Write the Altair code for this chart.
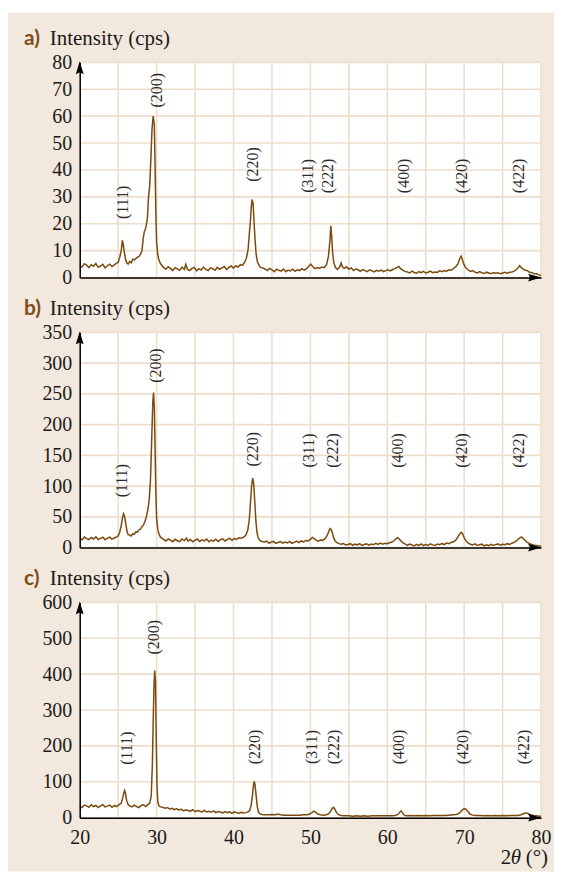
import altair as alt
import pandas as pd

# ---------------------------------------------------------------------------
# XRD patterns: 2θ (degrees) and intensity (cps) for samples a), b), c)
# ---------------------------------------------------------------------------
two_theta_a = [
    20.0, 20.3, 20.6, 20.9, 21.2, 21.5, 21.8, 22.1, 22.4, 22.7, 23.0, 23.3, 23.6, 23.9, 24.2, 24.5,
    24.8, 25.0, 25.2, 25.4, 25.55, 25.65, 25.8, 25.95, 26.1, 26.3, 26.5, 26.7, 26.9, 27.1, 27.3, 27.5,
    27.7, 27.9, 28.1, 28.25, 28.4, 28.6, 28.8, 28.95, 29.1, 29.25, 29.4, 29.55, 29.7, 29.8, 29.9, 30.0,
    30.15, 30.3, 30.5, 30.7, 30.9, 31.2, 31.5, 31.8, 32.1, 32.4, 32.7, 33.0, 33.3, 33.6, 33.8, 34.0,
    34.3, 34.6, 34.9, 35.2, 35.5, 35.8, 36.1, 36.4, 36.7, 37.0, 37.3, 37.6, 37.9, 38.2, 38.5, 38.8,
    39.1, 39.4, 39.7, 40.0, 40.3, 40.6, 40.9, 41.2, 41.5, 41.7, 41.9, 42.05, 42.2, 42.3, 42.42, 42.55,
    42.65, 42.8, 42.95, 43.1, 43.3, 43.5, 43.8, 44.1, 44.4, 44.7, 45.0, 45.3, 45.6, 45.9, 46.2, 46.5,
    46.8, 47.1, 47.4, 47.7, 48.0, 48.3, 48.6, 48.9, 49.2, 49.5, 49.8, 50.05, 50.3, 50.6, 50.9, 51.2,
    51.5, 51.8, 52.1, 52.35, 52.55, 52.65, 52.75, 52.9, 53.05, 53.25, 53.5, 53.8, 54.0, 54.15, 54.4, 54.7,
    55.0, 55.3, 55.6, 55.9, 56.2, 56.5, 56.8, 57.1, 57.4, 57.7, 58.0, 58.3, 58.6, 58.9, 59.2, 59.5,
    59.8, 60.1, 60.4, 60.7, 61.0, 61.3, 61.5, 61.7, 62.0, 62.3, 62.6, 62.9, 63.2, 63.5, 63.8, 64.1,
    64.4, 64.7, 65.0, 65.3, 65.6, 65.9, 66.2, 66.5, 66.8, 67.1, 67.4, 67.7, 68.0, 68.3, 68.6, 68.9,
    69.2, 69.45, 69.6, 69.75, 69.95, 70.2, 70.5, 70.8, 71.1, 71.4, 71.7, 72.0, 72.3, 72.6, 72.9, 73.2,
    73.5, 73.8, 74.1, 74.4, 74.7, 75.0, 75.3, 75.6, 75.9, 76.2, 76.5, 76.8, 77.0, 77.2, 77.4, 77.6,
    77.9, 78.2, 78.5, 78.8, 79.1, 79.4, 79.7, 80.0,
]
counts_a = [
    4.5, 3.9, 5.1, 4.6, 3.7, 4.8, 4.2, 5.2, 3.8, 4.3, 4.9, 3.6, 4.4, 5.0, 4.1, 4.7,
    5.4, 5.6, 7.5, 10.0, 13.8, 12.5, 9.5, 7.0, 5.6, 5.0, 6.0, 5.5, 6.8, 6.6, 7.0, 7.6,
    7.8, 8.6, 10.0, 14.5, 17.0, 18.5, 22.0, 30.0, 34.0, 44.0, 55.0, 60.0, 57.0, 42.0, 24.0, 13.0,
    8.5, 6.5, 5.2, 4.5, 3.8, 3.1, 4.0, 3.4, 2.6, 3.7, 3.2, 2.7, 3.9, 3.0, 4.9, 3.1,
    2.6, 3.4, 3.8, 2.5, 3.3, 2.8, 3.9, 3.0, 2.6, 3.6, 3.3, 2.7, 3.8, 3.1, 3.6, 4.1,
    3.0, 3.8, 4.3, 3.5, 4.4, 3.9, 4.8, 4.6, 6.0, 7.5, 10.5, 16.0, 21.0, 26.0, 29.0, 27.5,
    22.0, 14.0, 8.5, 6.0, 4.6, 3.8, 3.6, 3.2, 2.6, 3.4, 2.9, 2.2, 3.1, 2.7, 2.4, 3.2,
    2.2, 2.8, 2.5, 3.1, 2.3, 2.9, 2.6, 3.3, 2.8, 3.3, 4.2, 5.0, 4.1, 3.3, 3.7, 3.5,
    3.9, 3.7, 4.8, 8.0, 14.0, 19.2, 16.0, 9.0, 5.5, 3.8, 3.0, 3.9, 5.4, 4.0, 3.4, 4.0,
    3.1, 3.6, 2.6, 3.2, 2.9, 2.3, 3.0, 2.6, 2.2, 2.9, 2.5, 2.1, 2.7, 2.4, 2.8, 2.2,
    2.6, 2.9, 2.5, 3.0, 3.3, 3.8, 4.1, 3.4, 2.8, 2.3, 2.1, 1.7, 2.4, 1.9, 1.6, 2.2,
    1.8, 2.3, 1.7, 2.0, 2.4, 1.8, 2.1, 1.9, 2.5, 2.2, 2.6, 2.4, 2.9, 2.7, 3.3, 4.0,
    5.2, 7.2, 8.0, 6.8, 5.0, 3.6, 2.9, 2.3, 2.6, 2.0, 1.7, 2.2, 1.8, 1.5, 2.0, 1.7,
    1.4, 1.9, 1.6, 1.8, 1.4, 1.7, 2.0, 1.6, 2.0, 2.1, 2.4, 3.0, 3.6, 4.4, 3.8, 3.3,
    2.8, 2.6, 2.0, 1.9, 1.4, 1.4, 1.0, 0.8,
]

two_theta_b = [
    20.0, 20.3, 20.6, 20.9, 21.2, 21.5, 21.8, 22.1, 22.4, 22.7, 23.0, 23.3, 23.6, 23.9, 24.2, 24.5,
    24.8, 25.0, 25.2, 25.4, 25.55, 25.7, 25.85, 26.0, 26.15, 26.3, 26.5, 26.7, 26.9, 27.1, 27.3, 27.5,
    27.7, 27.9, 28.1, 28.3, 28.5, 28.7, 28.9, 29.05, 29.2, 29.35, 29.5, 29.6, 29.7, 29.8, 29.9, 30.0,
    30.15, 30.3, 30.5, 30.7, 30.9, 31.2, 31.5, 31.8, 32.1, 32.4, 32.7, 33.0, 33.3, 33.6, 33.9, 34.1,
    34.4, 34.7, 35.0, 35.3, 35.6, 35.9, 36.2, 36.5, 36.8, 37.1, 37.4, 37.7, 38.0, 38.3, 38.6, 38.9,
    39.2, 39.5, 39.8, 40.1, 40.4, 40.7, 41.0, 41.3, 41.6, 41.85, 42.05, 42.2, 42.35, 42.5, 42.62, 42.75,
    42.9, 43.05, 43.2, 43.4, 43.7, 44.0, 44.3, 44.6, 44.9, 45.2, 45.5, 45.8, 46.1, 46.4, 46.7, 47.0,
    47.3, 47.6, 47.9, 48.2, 48.5, 48.8, 49.1, 49.4, 49.7, 50.0, 50.25, 50.45, 50.7, 51.0, 51.3, 51.6,
    51.9, 52.15, 52.35, 52.55, 52.7, 52.85, 53.0, 53.2, 53.45, 53.7, 54.0, 54.3, 54.6, 54.9, 55.2, 55.5,
    55.8, 56.1, 56.4, 56.7, 57.0, 57.3, 57.6, 57.9, 58.2, 58.5, 58.8, 59.1, 59.4, 59.7, 60.0, 60.3,
    60.6, 60.9, 61.15, 61.35, 61.55, 61.8, 62.05, 62.3, 62.6, 62.9, 63.2, 63.5, 63.8, 64.1, 64.4, 64.7,
    65.0, 65.3, 65.6, 65.9, 66.2, 66.5, 66.8, 67.1, 67.4, 67.7, 68.0, 68.3, 68.6, 68.9, 69.15, 69.4,
    69.6, 69.8, 70.0, 70.25, 70.5, 70.8, 71.1, 71.4, 71.7, 72.0, 72.3, 72.6, 72.9, 73.2, 73.5, 73.8,
    74.1, 74.4, 74.7, 75.0, 75.3, 75.6, 75.9, 76.2, 76.5, 76.8, 77.05, 77.3, 77.5, 77.7, 77.95, 78.2,
    78.5, 78.8, 79.1, 79.4, 79.7, 80.0,
]
counts_b = [
    15.5, 12.8, 17.2, 14.6, 13.0, 16.4, 14.0, 17.5, 13.2, 15.0, 16.8, 12.6, 15.4, 17.0, 13.8, 15.6,
    17.5, 19.0, 25.0, 36.0, 48.0, 55.0, 50.0, 38.0, 27.0, 21.0, 20.5, 19.0, 22.5, 21.5, 25.5, 25.0,
    29.0, 30.0, 34.0, 37.0, 43.0, 52.0, 64.0, 80.0, 110.0, 170.0, 235.0, 252.0, 230.0, 160.0, 90.0, 48.0,
    30.0, 22.0, 17.0, 15.0, 13.5, 10.8, 14.2, 12.0, 9.6, 13.5, 11.2, 9.8, 14.0, 11.5, 15.5, 10.4,
    13.2, 9.5, 12.0, 14.0, 9.8, 12.6, 11.0, 13.8, 9.4, 12.2, 10.6, 13.6, 9.9, 12.8, 14.2, 10.6,
    13.4, 15.0, 11.8, 14.6, 13.2, 16.0, 15.2, 17.0, 20.0, 28.0, 45.0, 72.0, 100.0, 113.0, 105.0, 78.0,
    45.0, 25.0, 16.0, 12.0, 10.0, 9.0, 10.4, 7.4, 8.8, 10.0, 6.8, 8.4, 9.8, 7.2, 9.0, 7.8,
    10.2, 7.0, 8.6, 10.4, 8.0, 10.8, 9.2, 11.6, 11.0, 13.5, 16.5, 15.0, 12.5, 10.6, 12.2, 11.8,
    14.5, 19.0, 25.0, 31.0, 29.5, 24.0, 17.0, 11.0, 8.0, 6.5, 5.5, 6.6, 4.2, 5.2, 6.4, 3.8,
    5.6, 4.4, 6.6, 3.6, 5.0, 6.2, 4.0, 5.8, 4.8, 6.8, 5.2, 7.2, 5.6, 7.0, 6.4, 8.0,
    9.0, 11.5, 14.5, 16.0, 14.0, 10.5, 7.5, 6.0, 3.6, 5.8, 4.2, 2.8, 5.4, 3.4, 6.0, 3.2,
    5.0, 3.6, 6.2, 4.4, 3.4, 5.8, 4.6, 6.6, 5.0, 7.4, 6.4, 8.4, 9.5, 12.0, 16.5, 22.0,
    25.0, 22.5, 16.0, 10.5, 7.5, 5.5, 4.2, 6.2, 3.4, 4.8, 5.6, 2.8, 4.6, 3.2, 5.4, 3.6,
    4.8, 6.0, 3.8, 5.4, 4.6, 6.4, 5.2, 7.2, 8.5, 11.0, 14.0, 16.5, 17.0, 14.5, 11.5, 8.5,
    6.5, 5.0, 4.0, 3.4, 2.8, 2.5,
]

two_theta_c = [
    20.0, 20.3, 20.6, 20.9, 21.2, 21.5, 21.8, 22.1, 22.4, 22.7, 23.0, 23.3, 23.6, 23.9, 24.2, 24.5,
    24.8, 25.1, 25.4, 25.6, 25.75, 25.85, 25.95, 26.1, 26.3, 26.5, 26.8, 27.1, 27.4, 27.7, 28.0, 28.3,
    28.6, 28.9, 29.1, 29.3, 29.45, 29.55, 29.65, 29.75, 29.85, 29.95, 30.05, 30.15, 30.3, 30.5, 30.8, 31.1,
    31.4, 31.7, 32.0, 32.3, 32.6, 32.9, 33.2, 33.5, 33.8, 34.1, 34.4, 34.7, 35.0, 35.3, 35.6, 35.9,
    36.2, 36.5, 36.8, 37.1, 37.4, 37.7, 38.0, 38.3, 38.6, 38.9, 39.2, 39.5, 39.8, 40.1, 40.4, 40.7,
    41.0, 41.3, 41.6, 41.9, 42.1, 42.3, 42.45, 42.6, 42.7, 42.8, 42.95, 43.1, 43.25, 43.4, 43.7, 44.0,
    44.5, 45.0, 45.5, 45.8, 46.1, 46.6, 47.1, 47.6, 48.1, 48.6, 49.1, 49.6, 49.9, 50.2, 50.45, 50.7,
    50.95, 51.3, 51.7, 52.1, 52.4, 52.65, 52.85, 53.0, 53.15, 53.35, 53.6, 54.0, 54.5, 55.0, 55.5, 56.0,
    56.5, 57.0, 57.5, 58.0, 58.5, 59.0, 59.5, 60.0, 60.5, 61.0, 61.4, 61.65, 61.8, 61.95, 62.2, 62.5,
    63.0, 63.5, 64.0, 64.5, 65.0, 65.5, 66.0, 66.5, 67.0, 67.5, 68.0, 68.5, 69.0, 69.4, 69.7, 69.95,
    70.2, 70.45, 70.75, 71.1, 71.5, 72.0, 72.5, 73.0, 73.5, 74.0, 74.5, 75.0, 75.5, 76.0, 76.5, 77.0,
    77.4, 77.7, 78.0, 78.3, 78.6, 79.0, 79.4, 79.7, 80.0,
]
counts_c = [
    32, 28, 35, 33, 29, 36, 31, 34, 28, 33, 36, 30, 32, 35, 29, 34,
    31, 36, 40, 55, 70, 76, 68, 48, 36, 33, 30, 35, 31, 28, 34, 36,
    31, 37, 40, 60, 150, 260, 360, 410, 380, 220, 90, 45, 33, 30, 29, 26,
    28, 24, 26, 22, 25, 21, 24, 19, 22, 20, 18, 22, 17, 20, 18, 16,
    20, 16, 18, 15, 19, 14, 17, 16, 13, 17, 14, 16, 12, 16, 14, 12,
    15, 13, 14, 16, 20, 35, 60, 90, 101, 92, 60, 30, 16, 11, 9, 8,
    8, 9, 8, 10, 8, 7, 7, 7, 7, 7, 8, 8, 10, 14, 18, 15,
    10, 8, 7, 8, 11, 18, 26, 29, 25, 16, 9, 6, 5, 5, 4, 5,
    4, 5, 4, 5, 5, 5, 5, 5, 5, 6, 9, 16, 19, 14, 7, 5,
    6, 5, 6, 5, 6, 5, 6, 6, 6, 6, 7, 8, 9, 13, 20, 25,
    24, 18, 10, 7, 6, 6, 5, 6, 5, 6, 5, 6, 5, 6, 6, 6,
    8, 11, 13, 12, 8, 6, 5, 4, 4,
]

# Miller indices and where their labels sit (2θ, intensity) in each panel
hkl = ["(111)", "(200)", "(220)", "(311)", "(222)", "(400)", "(420)", "(422)"]
label_x_a = [25.6, 30.0, 42.5, 49.7, 52.3, 62.2, 69.7, 77.1]
label_y_a = [28, 69.6, 42, 37.8, 37.8, 37.8, 37.8, 37.8]
label_x_b = [25.5, 29.9, 42.5, 49.8, 52.9, 61.4, 69.7, 77.1]
label_y_b = [109, 296, 160, 158, 158, 158, 158, 158]
label_x_c = [26.1, 29.6, 42.8, 50.2, 53.1, 61.5, 69.8, 77.8]
label_y_c = [194, 503, 197, 197, 197, 197, 197, 197]

# Axis ticks and grid positions
x_grid = [20, 25, 30, 35, 40, 45, 50, 55, 60, 65, 70, 75, 80]
x_ticks = [20, 30, 40, 50, 60, 70, 80]
y_ticks_a = [0, 10, 20, 30, 40, 50, 60, 70, 80]
y_ticks_b = [0, 50, 100, 150, 200, 250, 300, 350]
y_ticks_c = [0, 100, 200, 300, 400, 500, 600]

# Styling
W, H = 463, 216
PANEL_BG = "#f3e8dd"
GRID = "#eddecc"
LINE = "#7b4a0e"
LETTER = "#7d4e1a"
SERIF = "Liberation Serif"

one_row = alt.Data(values=[{}])


def panel(letter, xs, ys, lx, ly, yticks, first=False, last=False):
    xscale = alt.Scale(domain=[20, 80], nice=False)
    yscale = alt.Scale(domain=[yticks[0], yticks[-1]], nice=False)
    xaxis = alt.Axis(
        values=x_ticks, labels=last, ticks=False, grid=False, title=None,
        domainColor="black", domainWidth=1.5, labelFont=SERIF, labelFontSize=20,
        labelColor="#1a1a1a", labelPadding=10, labelFlush=False, zindex=1,
    )
    yaxis = alt.Axis(
        values=yticks, ticks=False, grid=False, title=None,
        domainColor="black", domainWidth=1.5, labelFont=SERIF, labelFontSize=20,
        labelColor="#1a1a1a", labelPadding=8, labelFlush=False, zindex=1,
    )

    layers = []
    if first:
        # beige card behind all three panels, then the white plot area on top
        layers.append(
            alt.Chart(one_row).mark_rect(color=PANEL_BG).encode(
                x=alt.value(-72), x2=alt.value(476), y=alt.value(-50), y2=alt.value(812)
            )
        )
        layers.append(
            alt.Chart(one_row).mark_rect(color="white").encode(
                x=alt.value(0), x2=alt.value(W), y=alt.value(0), y2=alt.value(H)
            )
        )

    vgrid = alt.Chart(pd.DataFrame({"g": x_grid})).mark_rule(
        color=GRID, strokeWidth=1.6
    ).encode(x=alt.X("g:Q", scale=xscale, axis=xaxis))
    hgrid = alt.Chart(pd.DataFrame({"g": yticks})).mark_rule(
        color=GRID, strokeWidth=1.6
    ).encode(y=alt.Y("g:Q", scale=yscale, axis=yaxis))

    line = alt.Chart(pd.DataFrame({"two_theta": xs, "counts": ys})).mark_line(
        color=LINE, strokeWidth=1.5
    ).encode(
        x=alt.X("two_theta:Q", scale=xscale, axis=xaxis),
        y=alt.Y("counts:Q", scale=yscale, axis=yaxis),
    )

    peaks = alt.Chart(pd.DataFrame({"hkl": hkl, "x": lx, "y": ly})).mark_text(
        angle=270, font=SERIF, fontSize=16, color="#2a2a2a", align="center", baseline="middle"
    ).encode(
        x=alt.X("x:Q", scale=xscale, axis=xaxis),
        y=alt.Y("y:Q", scale=yscale, axis=yaxis),
        text="hkl:N",
    )

    arrow_up = alt.Chart(one_row).mark_point(
        shape="M0,0L0.6,2L0,1.7L-0.6,2Z", filled=True, size=169, color="black", opacity=1, strokeWidth=0
    ).encode(x=alt.value(0), y=alt.value(-1))
    arrow_right = alt.Chart(one_row).mark_point(
        shape="M0,0L-2,-0.6L-1.7,0L-2,0.6Z", filled=True, size=169, color="black", opacity=1, strokeWidth=0
    ).encode(x=alt.value(W), y=alt.value(H))

    tag = alt.Chart(one_row).mark_text(
        text=letter, font="Lato", fontWeight="bold", fontSize=21, color=LETTER,
        align="left", baseline="alphabetic",
    ).encode(x=alt.value(-56), y=alt.value(-17))
    ylabel = alt.Chart(one_row).mark_text(
        text="Intensity (cps)", font=SERIF, fontSize=21, color="#1a1a1a",
        align="left", baseline="alphabetic",
    ).encode(x=alt.value(-30), y=alt.value(-17))

    layers += [vgrid, hgrid, line, peaks, arrow_up, arrow_right, tag, ylabel]

    if last:
        common = dict(font=SERIF, fontSize=21, color="#1a1a1a", align="right", baseline="alphabetic")
        layers.append(alt.Chart(one_row).mark_text(text="(°)", **common).encode(
            x=alt.value(470), y=alt.value(263)))
        layers.append(alt.Chart(one_row).mark_text(text="θ", fontStyle="italic", **common).encode(
            x=alt.value(443), y=alt.value(263)))
        layers.append(alt.Chart(one_row).mark_text(text="2", **common).encode(
            x=alt.value(433), y=alt.value(263)))

    return alt.layer(*layers).properties(width=W, height=H)


chart = alt.vconcat(
    panel("a)", two_theta_a, counts_a, label_x_a, label_y_a, y_ticks_a, first=True),
    panel("b)", two_theta_b, counts_b, label_x_b, label_y_b, y_ticks_b),
    panel("c)", two_theta_c, counts_c, label_x_c, label_y_c, y_ticks_c, last=True),
    spacing=55,
    bounds="flush",
).properties(
    padding={"left": 7, "top": 10, "right": 8, "bottom": 2},
    background="white",
).configure_view(
    fill="white", stroke="transparent"
)

chart.save("out.html", embed_options={"renderer": "svg", "actions": False})
